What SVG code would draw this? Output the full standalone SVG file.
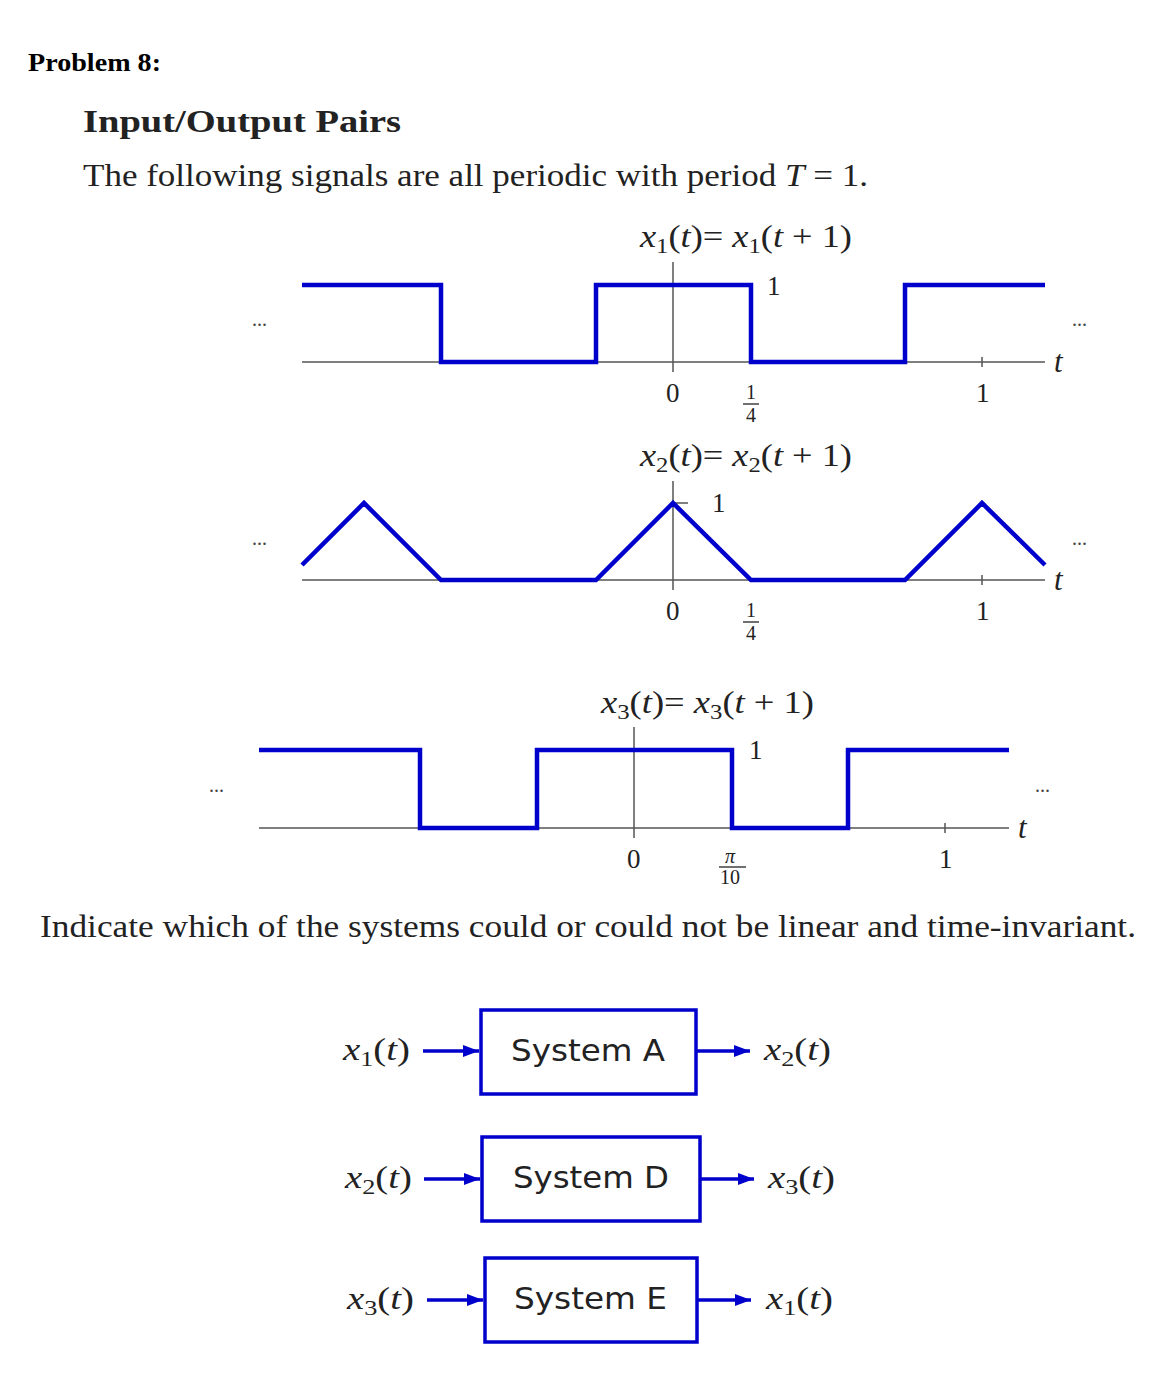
<svg xmlns="http://www.w3.org/2000/svg" width="1158" height="1395" viewBox="0 0 1158 1395">
<defs>
<marker id="ah" viewBox="0 0 16 12" refX="16" refY="6" markerWidth="16" markerHeight="12" orient="auto" markerUnits="userSpaceOnUse"><path d="M0,0 L16,6 L0,12 Z" fill="#0000cc"/></marker>
</defs>
<style>
.m{font-family:"Liberation Serif",serif;font-size:31px;fill:#222}
.mi{font-family:"Liberation Serif",serif;font-style:italic;font-size:31px;fill:#222}
.n{font-family:"Liberation Serif",serif;font-size:27px;fill:#222}
.s{font-family:"Liberation Serif",serif;font-size:21px;fill:#222}
.f{font-family:"Liberation Serif",serif;font-size:20px;fill:#222}
.ax{stroke:#555;stroke-width:1.5;fill:none}
.sig{stroke:#0000cc;stroke-width:4.5;fill:none;stroke-linejoin:miter}
.box{stroke:#0000cc;stroke-width:3.5;fill:#fff}
.con{stroke:#0000cc;stroke-width:3.5;fill:none;marker-end:url(#ah)}
.bt{font-family:"DejaVu Sans","Liberation Sans",sans-serif;font-size:31px;fill:#222}
.dots{font-family:"Liberation Serif",serif;font-size:20px;fill:#444}
</style>
<rect width="1158" height="1395" fill="#fff"/>
<text x="28" y="71" font-family="Liberation Serif,serif" font-weight="bold" font-size="26" fill="#000" textLength="133" lengthAdjust="spacingAndGlyphs">Problem 8:</text>
<text x="83" y="132" font-family="Liberation Serif,serif" font-weight="bold" font-size="32" fill="#222" textLength="318" lengthAdjust="spacingAndGlyphs">Input/Output Pairs</text>
<text x="83" y="186" class="m" textLength="785" lengthAdjust="spacingAndGlyphs">The following signals are all periodic with period <tspan font-style="italic">T</tspan> = 1.</text>

<g id="plot1">
<text x="640" y="247" class="mi" textLength="212" lengthAdjust="spacingAndGlyphs">x<tspan class="s" font-style="normal" dy="6">1</tspan><tspan dy="-6" font-style="normal">(</tspan>t<tspan font-style="normal">)= </tspan>x<tspan class="s" font-style="normal" dy="6">1</tspan><tspan dy="-6" font-style="normal">(</tspan>t<tspan font-style="normal"> + 1)</tspan></text>
<line class="ax" x1="302" y1="362" x2="1045" y2="362"/>
<line class="ax" x1="673" y1="262" x2="673" y2="372"/>
<line class="ax" x1="982" y1="357" x2="982" y2="367"/>
<polyline class="sig" points="302,285 441,285 441,362 596,362 596,285 751,285 751,362 905,362 905,285 1045,285"/>
<text x="767" y="295" class="n">1</text>
<text x="1054" y="372" class="mi" font-size="26">t</text>
<text x="666" y="402" class="n">0</text>
<text x="746" y="399" class="f">1</text><line x1="743" y1="404" x2="759" y2="404" stroke="#222" stroke-width="1.3"/><text x="746" y="422" class="f">4</text>
<text x="976" y="402" class="n">1</text>
<text x="252" y="326" class="dots">...</text><text x="1072" y="326" class="dots">...</text>
</g>

<g id="plot2">
<text x="640" y="466" class="mi" textLength="212" lengthAdjust="spacingAndGlyphs">x<tspan class="s" font-style="normal" dy="6">2</tspan><tspan dy="-6" font-style="normal">(</tspan>t<tspan font-style="normal">)= </tspan>x<tspan class="s" font-style="normal" dy="6">2</tspan><tspan dy="-6" font-style="normal">(</tspan>t<tspan font-style="normal"> + 1)</tspan></text>
<line class="ax" x1="302" y1="580" x2="1045" y2="580"/>
<line class="ax" x1="673" y1="481" x2="673" y2="590"/>
<line class="ax" x1="673" y1="503" x2="688" y2="503"/>
<line class="ax" x1="982" y1="575" x2="982" y2="585"/>
<polyline class="sig" points="302,565 364,503 441,580 596,580 673,503 751,580 905,580 982,503 1045,565"/>
<text x="712" y="512" class="n">1</text>
<text x="1054" y="590" class="mi" font-size="26">t</text>
<text x="666" y="620" class="n">0</text>
<text x="746" y="617" class="f">1</text><line x1="743" y1="622" x2="759" y2="622" stroke="#222" stroke-width="1.3"/><text x="746" y="640" class="f">4</text>
<text x="976" y="620" class="n">1</text>
<text x="252" y="545" class="dots">...</text><text x="1072" y="545" class="dots">...</text>
</g>

<g id="plot3">
<text x="601" y="713" class="mi" textLength="213" lengthAdjust="spacingAndGlyphs">x<tspan class="s" font-style="normal" dy="6">3</tspan><tspan dy="-6" font-style="normal">(</tspan>t<tspan font-style="normal">)= </tspan>x<tspan class="s" font-style="normal" dy="6">3</tspan><tspan dy="-6" font-style="normal">(</tspan>t<tspan font-style="normal"> + 1)</tspan></text>
<line class="ax" x1="259" y1="828" x2="1009" y2="828"/>
<line class="ax" x1="634" y1="727" x2="634" y2="838"/>
<line class="ax" x1="945" y1="823" x2="945" y2="833"/>
<polyline class="sig" points="259,750 420,750 420,828 537,828 537,750 732,750 732,828 848,828 848,750 1009,750"/>
<text x="749" y="759" class="n">1</text>
<text x="1018" y="838" class="mi" font-size="26">t</text>
<text x="627" y="868" class="n">0</text>
<text x="725" y="863" class="f" font-style="italic">π</text><line x1="719" y1="867" x2="746" y2="867" stroke="#222" stroke-width="1.3"/><text x="720" y="884" class="f">10</text>
<text x="939" y="868" class="n">1</text>
<text x="209" y="792" class="dots">...</text><text x="1035" y="792" class="dots">...</text>
</g>

<text x="40" y="937" class="m" textLength="1096" lengthAdjust="spacingAndGlyphs">Indicate which of the systems could or could not be linear and time-invariant.</text>

<g id="connectors">
<line class="con" x1="423" y1="1051" x2="479" y2="1051"/>
<line class="con" x1="696" y1="1051" x2="750" y2="1051"/>
<line class="con" x1="424" y1="1179" x2="480" y2="1179"/>
<line class="con" x1="700" y1="1179" x2="754" y2="1179"/>
<line class="con" x1="427" y1="1300" x2="483" y2="1300"/>
<line class="con" x1="697" y1="1300" x2="751" y2="1300"/>
</g>

<g id="sysA">
<rect class="box" x="481" y="1010" width="215" height="84"/>
<text x="511" y="1061" class="bt" textLength="154" lengthAdjust="spacingAndGlyphs">System A</text>
</g>
<g id="sysD">
<rect class="box" x="482" y="1137" width="218" height="84"/>
<text x="513" y="1188" class="bt" textLength="156" lengthAdjust="spacingAndGlyphs">System D</text>
</g>
<g id="sysE">
<rect class="box" x="485" y="1258" width="212" height="84"/>
<text x="514" y="1309" class="bt" textLength="153" lengthAdjust="spacingAndGlyphs">System E</text>
</g>

<g id="labels">
<text x="343" y="1060" class="mi" textLength="67" lengthAdjust="spacingAndGlyphs">x<tspan class="s" font-style="normal" dy="6">1</tspan><tspan dy="-6" font-style="normal">(</tspan>t<tspan font-style="normal">)</tspan></text>
<text x="764" y="1060" class="mi" textLength="67" lengthAdjust="spacingAndGlyphs">x<tspan class="s" font-style="normal" dy="6">2</tspan><tspan dy="-6" font-style="normal">(</tspan>t<tspan font-style="normal">)</tspan></text>
<text x="345" y="1188" class="mi" textLength="67" lengthAdjust="spacingAndGlyphs">x<tspan class="s" font-style="normal" dy="6">2</tspan><tspan dy="-6" font-style="normal">(</tspan>t<tspan font-style="normal">)</tspan></text>
<text x="768" y="1188" class="mi" textLength="67" lengthAdjust="spacingAndGlyphs">x<tspan class="s" font-style="normal" dy="6">3</tspan><tspan dy="-6" font-style="normal">(</tspan>t<tspan font-style="normal">)</tspan></text>
<text x="347" y="1309" class="mi" textLength="67" lengthAdjust="spacingAndGlyphs">x<tspan class="s" font-style="normal" dy="6">3</tspan><tspan dy="-6" font-style="normal">(</tspan>t<tspan font-style="normal">)</tspan></text>
<text x="766" y="1309" class="mi" textLength="67" lengthAdjust="spacingAndGlyphs">x<tspan class="s" font-style="normal" dy="6">1</tspan><tspan dy="-6" font-style="normal">(</tspan>t<tspan font-style="normal">)</tspan></text>
</g>
</svg>
